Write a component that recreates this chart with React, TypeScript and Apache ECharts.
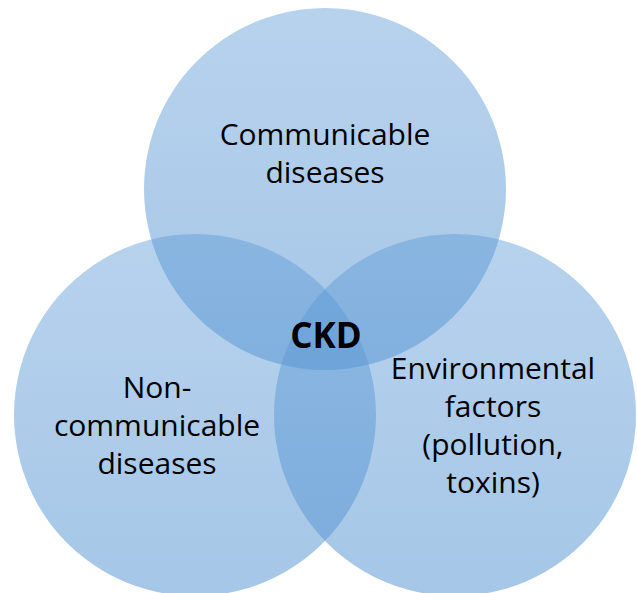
import React, { useEffect, useRef } from "react";
import * as echarts from "echarts";

const W = 637;
const H = 593;

// Circles: [centerX, centerY, radius] in page units
const circleNames = ["Communicable diseases", "Non-communicable diseases", "Environmental factors"];
const circleCenters: [number, number][] = [
  [325, 189],
  [195, 415],
  [455, 415],
];
const circleRadii = [181, 181, 181];

// Labels: text and anchor (page units)
const labelTexts = [
  "Communicable\ndiseases",
  "Non-\ncommunicable\ndiseases",
  "Environmental\nfactors\n(pollution,\ntoxins)",
  "CKD",
];
const labelAnchors: [number, number][] = [
  [325, 152],
  [157, 424],
  [493, 424],
  [326, 334],
];

export default function App() {
  const ref = useRef<HTMLDivElement>(null);
  useEffect(() => {
    document.body.style.margin = "0";
    const chart = echarts.init(ref.current!, undefined, { renderer: "svg" });
    const circleData = circleCenters.map((c, i) => ({
      name: circleNames[i],
      value: [c[0], c[1], circleRadii[i]],
    }));
    const labelData = labelTexts.map((t, i) => ({
      name: t,
      value: [labelAnchors[i][0], labelAnchors[i][1], i],
    }));
    chart.setOption({
      animation: false,
      grid: { left: 0, right: 0, top: 0, bottom: 0 },
      xAxis: { type: "value", min: 0, max: W, show: false },
      yAxis: { type: "value", min: 0, max: H, inverse: true, show: false },
      series: [
        {
          type: "custom",
          data: circleData,
          renderItem: (params: any, api: any) => {
            const p = api.coord([api.value(0), api.value(1)]);
            const s = api.size([api.value(2), api.value(2)]);
            return {
              type: "circle",
              shape: { cx: p[0], cy: p[1], r: s[0] },
              style: {
                fill: new echarts.graphic.LinearGradient(0, 0, 0, 1, [
                  { offset: 0, color: "rgba(92,153,214,0.44)" },
                  { offset: 1, color: "rgba(86,148,210,0.53)" },
                ]),
                stroke: "none",
              },
            };
          },
        },
        {
          type: "custom",
          data: labelData,
          z: 10,
          renderItem: (params: any, api: any) => {
            const p = api.coord([api.value(0), api.value(1)]);
            const idx = api.value(2);
            const isCKD = idx === 3;
            return {
              type: "text",
              x: p[0],
              y: p[1],
              style: {
                text: labelTexts[idx],
                fill: "#000",
                font: isCKD
                  ? "bold 35px 'Open Sans', sans-serif"
                  : "30px 'Open Sans', sans-serif",
                lineHeight: 38,
                align: "center",
                verticalAlign: "middle",
              },
            };
          },
        },
      ],
    });
    return () => chart.dispose();
  }, []);
  return <div ref={ref} style={{ width: W, height: H }} />;
}
